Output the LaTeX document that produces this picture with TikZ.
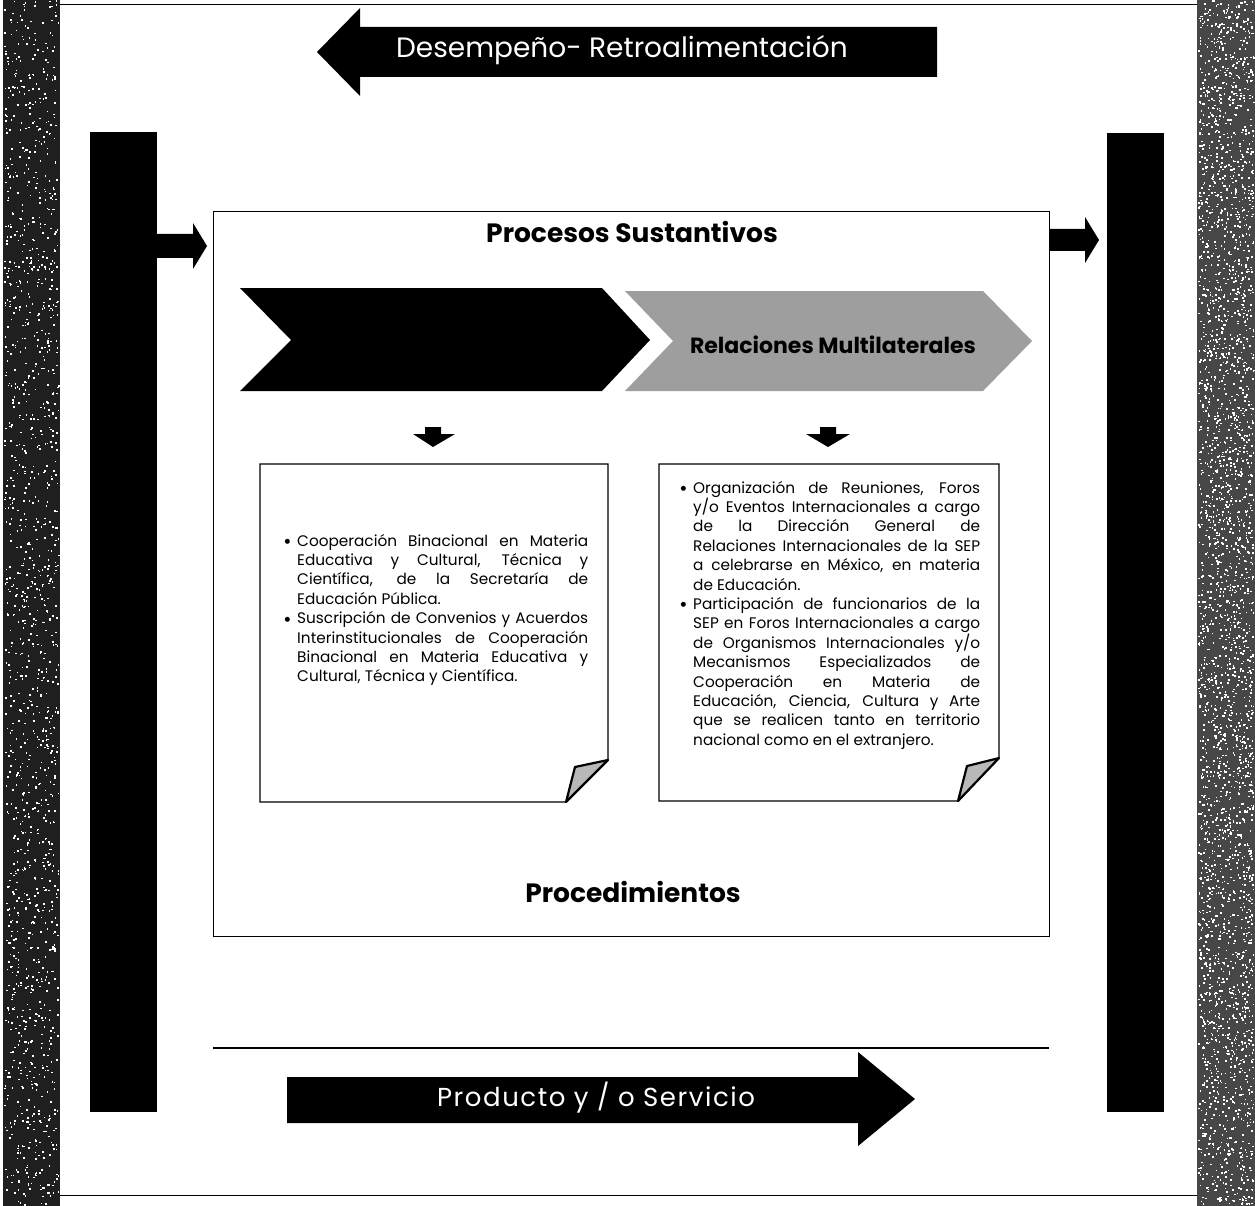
\documentclass[tikz,border=0pt]{standalone}
\usepackage{fontspec}
\setmainfont{Poppins}
\newfontfamily\bulfont{DejaVu Sans}
\usetikzlibrary{calc}
\newlength\tw
\newcommand\jl[1]{\hbox to \tw{#1}}
\newcommand\lastl[1]{\hbox{#1}}
\newcommand\bul{\llap{\raisebox{2.6pt}{\bulfont\fontsize{6.5}{6.5}\selectfont ●}\hskip 7pt}}
\tikzset{
  blk/.style={fill=black, draw=none, inner sep=0},
  mainframe/.style={draw=black, line width=1.3pt, inner sep=0},
  doc/.style={draw=black, line width=1.4pt, fill=white},
  flap/.style={draw=black, line width=2.2pt, line join=round, fill=black!28},
  ttl/.style={font=\fontsize{26.5}{26.5}\selectfont\bfseries, inner sep=0},
  wtxt/.style={text=white, inner sep=0},
  bodytxt/.style={font=\fontsize{15.3}{19.4}\selectfont, inner sep=0, anchor=base west},
  speck/.style={fill=white, draw=none},
}
\begin{document}
\begin{tikzpicture}[x=1pt,y=-1pt]
\useasboundingbox (0,0) rectangle (1255,1206);
\fill[white] (0,0) rectangle (1255,1206);
% textured side strips
\fill[black!88] (3,0) rectangle (60,1206);
\fill[black!72] (1197,0) rectangle (1255,1206);
\pgfmathsetseed{4711}
\foreach \i in {1,...,1400}{%
  \pgfmathsetmacro\xx{4+54*rnd}%
  \pgfmathsetmacro\yy{1204*rnd}%
  \fill[speck] (\xx,\yy) rectangle ++(1.6,1.6);}
\foreach \i in {1,...,3200}{%
  \pgfmathsetmacro\xx{1198+55*rnd}%
  \pgfmathsetmacro\yy{1204*rnd}%
  \fill[speck] (\xx,\yy) rectangle ++(1.6,1.6);}
\draw[line width=1pt] (60,5) -- (1197,5);
\draw[line width=1pt] (60,1195) -- (1197,1195);

% top arrow
\fill[black] (317,52) -- (360,8) -- (360,27) -- (937,27) -- (937,77) -- (360,77) -- (360,96) -- cycle;
\node[wtxt, font=\fontsize{28}{28}\selectfont] (fb) at (622,50) {Desempeño- Retroalimentación};

% vertical bars
\node[blk, minimum width=67, minimum height=980, anchor=north west] (lbar) at (90,132) {};
\node[blk, minimum width=57, minimum height=979, anchor=north west] (rbar) at (1107,133) {};

% main box
\node[mainframe, minimum width=836, minimum height=725, anchor=north west] (main) at (213,211) {};

% small arrows between bars and box
\fill[black] (157,234) -- (193,234) -- (193,223) -- (207,246) -- (193,269) -- (193,258) -- (157,258) -- cycle;
\fill[black] (1049,229) -- (1085,229) -- (1085,217) -- (1099,240) -- (1085,263) -- (1085,251) -- (1049,251) -- cycle;

\node[ttl] (ps) at (632,232) {Procesos Sustantivos};

% chevrons
\fill[black] (240,288) -- (602,288) -- (650,340) -- (602,391) -- (240,391) -- (291,340) -- cycle;
\fill[black!38] (625,291) -- (983,291) -- (1032,341) -- (983,391) -- (625,391) -- (673,341) -- cycle;
\node[inner sep=0, font=\fontsize{22}{22}\selectfont\bfseries] (rm) at (833,345) {Relaciones Multilaterales};

% small down arrows
\fill[black] (425,427) -- (441,427) -- (441,434) -- (455,434) -- (433,447) -- (413,434) -- (425,434) -- cycle;
\fill[black] (820,427) -- (836,427) -- (836,434) -- (850,434) -- (828,447) -- (806,434) -- (820,434) -- cycle;

% document boxes
\draw[doc] (260,464) -- (608,464) -- (608,760) -- (566,802) -- (260,802) -- cycle;
\draw[flap] (566,802) -- (575,767) -- (608,760) -- cycle;
\draw[doc] (659,464) -- (999,464) -- (999,758) -- (958,801) -- (659,801) -- cycle;
\draw[flap] (958,801) -- (967,766) -- (999,758) -- cycle;

\setlength\tw{291pt}
\node[bodytxt] (ltxt) at (297,546) {\vtop{\baselineskip=19.4pt
\jl{\bul Cooperación Binacional en Materia}
\jl{Educativa y Cultural, Técnica y}
\jl{Científica, de la Secretaría de}
\lastl{Educación Pública.}
\jl{\bul Suscripción de Convenios y Acuerdos}
\jl{Interinstitucionales de Cooperación}
\jl{Binacional en Materia Educativa y}
\lastl{Cultural, Técnica y Científica.}}};

\setlength\tw{287pt}
\node[bodytxt] (rtxt) at (693,493) {\vtop{\baselineskip=19.4pt
\jl{\bul Organización de Reuniones, Foros}
\jl{y/o Eventos Internacionales a cargo}
\jl{de la Dirección General de}
\jl{Relaciones Internacionales de la SEP}
\jl{a celebrarse en México, en materia}
\lastl{de Educación.}
\jl{\bul Participación de funcionarios de la}
\jl{SEP en Foros Internacionales a cargo}
\jl{de Organismos Internacionales y/o}
\jl{Mecanismos Especializados de}
\jl{Cooperación en Materia de}
\jl{Educación, Ciencia, Cultura y Arte}
\jl{que se realicen tanto en territorio}
\lastl{nacional como en el extranjero.}}};

\node[ttl] (proc) at (633,892) {Procedimientos};

% bottom line and arrow
\coordinate (hl1) at (213,1048);
\coordinate (hl2) at (1049,1048);
\draw[line width=1.3pt] (hl1) -- (hl2);
\fill[black] (287,1077) -- (858,1077) -- (858,1052) -- (915,1099) -- (858,1146) -- (858,1123) -- (287,1123) -- cycle;
\node[wtxt, font=\fontsize{26}{26}\selectfont\addfontfeature{LetterSpace=6}] (ps2) at (596,1098) {Producto y / o Servicio};
\end{tikzpicture}
\end{document}
